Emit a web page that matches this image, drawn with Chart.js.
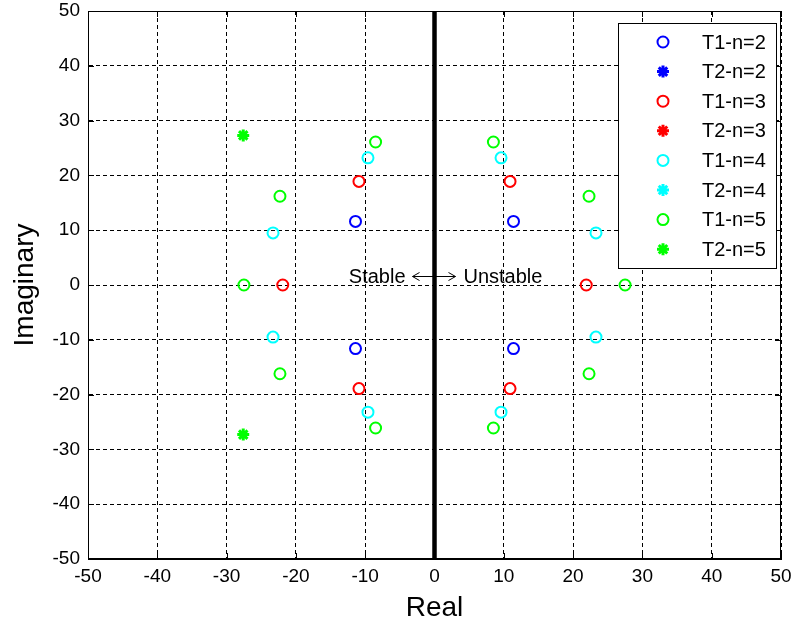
<!DOCTYPE html>
<html>
<head>
<meta charset="utf-8">
<title>Pole locations</title>
<script src="https://cdn.jsdelivr.net/npm/chart.js@4/dist/chart.umd.min.js"></script>
<style>
html, body { margin: 0; padding: 0; background: #fff; }
canvas { display: block; }
</style>
</head>
<body>
<canvas id="poles" width="792" height="627"></canvas>
<script>
// --- data ---------------------------------------------------------------
var axisTicks = [-50, -40, -30, -20, -10, 0, 10, 20, 30, 40, 50];
var seriesNames = ["T1-n=2", "T2-n=2", "T1-n=3", "T2-n=3", "T1-n=4", "T2-n=4", "T1-n=5", "T2-n=5"];

var t1n2Re = [-11.4, -11.4, 11.4, 11.4];
var t1n2Im = [11.6, -11.6, 11.6, -11.6];
var t2n2Re = [];
var t2n2Im = [];

var t1n3Re = [-10.9, -10.9, 10.9, 10.9, -21.9, 21.9];
var t1n3Im = [18.9, -18.9, 18.9, -18.9, 0, 0];
var t2n3Re = [];
var t2n3Im = [];

var t1n4Re = [-9.6, -9.6, 9.6, 9.6, -23.3, -23.3, 23.3, 23.3];
var t1n4Im = [23.2, -23.2, 23.2, -23.2, 9.5, -9.5, 9.5, -9.5];
var t2n4Re = [];
var t2n4Im = [];

var t1n5Re = [-8.5, -8.5, 8.5, 8.5, -22.3, -22.3, 22.3, 22.3, -27.5, 27.5];
var t1n5Im = [26.1, -26.1, 26.1, -26.1, 16.2, -16.2, 16.2, -16.2, 0, 0];
var t2n5Re = [-27.6, -27.6];
var t2n5Im = [27.3, -27.3];

// stability boundary (imaginary axis)
var boundaryRe = [0, 0];
var boundaryIm = [-50, 50];

// --- styles -------------------------------------------------------------
var FONT = "'Liberation Sans', Arial, sans-serif";
var seriesColors = ["#0000ff", "#0000ff", "#ff0000", "#ff0000", "#00ffff", "#00ffff", "#00ff00", "#00ff00"];

function toPoints(re, im) {
    var pts = [];
    for (var i = 0; i < re.length; i++) {
        pts.push({x: re[i], y: im[i]});
    }
    return pts;
}

function poleDataset(idx, re, im) {
    var isT2 = seriesNames[idx].indexOf("T2") === 0;
    return {
        label: seriesNames[idx],
        data: toPoints(re, im),
        showLine: false,
        pointStyle: isT2 ? "star" : "circle",
        pointRadius: isT2 ? 6 : 5.5,
        pointBorderWidth: isT2 ? 3 : 2,
        borderColor: seriesColors[idx],
        backgroundColor: isT2 ? seriesColors[idx] : "rgba(0,0,0,0)",
        inLegend: true
    };
}

var datasets = [
    {
        label: "boundary",
        type: "line",
        data: toPoints(boundaryRe, boundaryIm),
        borderColor: "#000",
        borderWidth: 4.5,
        pointRadius: 0,
        fill: false,
        inLegend: false
    },
    poleDataset(0, t1n2Re, t1n2Im),
    poleDataset(1, t2n2Re, t2n2Im),
    poleDataset(2, t1n3Re, t1n3Im),
    poleDataset(3, t2n3Re, t2n3Im),
    poleDataset(4, t1n4Re, t1n4Im),
    poleDataset(5, t2n4Re, t2n4Im),
    poleDataset(6, t1n5Re, t1n5Im),
    poleDataset(7, t2n5Re, t2n5Im)
];

// --- helpers for the matlab look ----------------------------------------
function drawMarker(ctx, ds, x, y) {
    ctx.save();
    ctx.strokeStyle = ds.borderColor;
    ctx.fillStyle = ds.backgroundColor;
    ctx.lineWidth = ds.pointBorderWidth;
    var r = ds.pointRadius;
    ctx.beginPath();
    if (ds.pointStyle === "circle") {
        ctx.arc(x, y, r, 0, Math.PI * 2);
    } else { // star: plus + x
        ctx.moveTo(x - r, y); ctx.lineTo(x + r, y);
        ctx.moveTo(x, y - r); ctx.lineTo(x, y + r);
        var d = r * Math.SQRT1_2;
        ctx.moveTo(x - d, y - d); ctx.lineTo(x + d, y + d);
        ctx.moveTo(x - d, y + d); ctx.lineTo(x + d, y - d);
    }
    ctx.stroke();
    ctx.restore();
}

var framePlugin = { // box round the axes + inward tick marks
    id: "frame",
    afterDraw: function (chart) {
        var ctx = chart.ctx, a = chart.chartArea;
        var xs = chart.scales.x, ys = chart.scales.y;
        ctx.save();
        ctx.strokeStyle = "#000";
        ctx.lineWidth = 1;
        ctx.strokeRect(a.left + 0.5, a.top + 0.5, a.right - a.left - 1, a.bottom - a.top - 1);
        ctx.beginPath();
        axisTicks.forEach(function (v) {
            var px = Math.round(xs.getPixelForValue(v)) + 0.5;
            var py = Math.round(ys.getPixelForValue(v)) + 0.5;
            ctx.moveTo(px, a.bottom); ctx.lineTo(px, a.bottom - 6);
            ctx.moveTo(px, a.top); ctx.lineTo(px, a.top + 6);
            ctx.moveTo(a.left, py); ctx.lineTo(a.left + 6, py);
            ctx.moveTo(a.right, py); ctx.lineTo(a.right - 6, py);
        });
        ctx.stroke();
        ctx.restore();
    }
};

var notePlugin = { // "Stable <-> Unstable" label at the origin
    id: "note",
    afterDatasetsDraw: function (chart) {
        var ctx = chart.ctx;
        var x0 = chart.scales.x.getPixelForValue(0);
        var y0 = chart.scales.y.getPixelForValue(0);
        ctx.save();
        ctx.font = "20px " + FONT;
        ctx.fillStyle = "#000";
        ctx.textBaseline = "alphabetic";
        ctx.textAlign = "right";
        ctx.fillText("Stable", x0 - 29, y0 - 2);
        ctx.textAlign = "left";
        ctx.fillText("Unstable", x0 + 29, y0 - 2);
        // double arrow
        var ya = y0 - 8.5, xl = x0 - 22, xr = x0 + 21;
        ctx.strokeStyle = "#000";
        ctx.lineWidth = 1;
        ctx.beginPath();
        ctx.moveTo(xl, ya); ctx.lineTo(xr, ya);
        ctx.moveTo(xl + 7, ya - 4); ctx.lineTo(xl, ya); ctx.lineTo(xl + 7, ya + 4);
        ctx.moveTo(xr - 7, ya - 4); ctx.lineTo(xr, ya); ctx.lineTo(xr - 7, ya + 4);
        ctx.stroke();
        ctx.restore();
    }
};

var legendPlugin = { // legend box in the top-right corner
    id: "boxLegend",
    afterDraw: function (chart) {
        var ctx = chart.ctx;
        var items = chart.data.datasets.filter(function (d) { return d.inLegend; });
        var left = 618, top = 23, w = 158, h = 245;
        ctx.save();
        ctx.fillStyle = "#fff";
        ctx.fillRect(left, top, w, h);
        ctx.strokeStyle = "#000";
        ctx.lineWidth = 1;
        ctx.strokeRect(left + 0.5, top + 0.5, w, h);
        ctx.font = "20px " + FONT;
        ctx.textAlign = "left";
        ctx.textBaseline = "middle";
        items.forEach(function (ds, i) {
            var y = top + 19 + i * 29.6;
            drawMarker(ctx, ds, left + 45, y);
            ctx.fillStyle = "#000";
            ctx.fillText(ds.label, left + 84, y + 1);
        });
        ctx.restore();
    }
};

// --- chart --------------------------------------------------------------
var ctx = document.getElementById("poles").getContext("2d");
var poleChart = new Chart(ctx, {
    type: "scatter",
    data: {datasets: datasets},
    plugins: [framePlugin, notePlugin, legendPlugin],
    options: {
        responsive: false,
        animation: false,
        devicePixelRatio: 1,
        layout: {padding: {top: 11, right: 11, left: 0, bottom: 0}},
        plugins: {
            legend: {display: false},
            tooltip: {enabled: false}
        },
        scales: {
            x: {
                type: "linear",
                min: -50,
                max: 50,
                afterFit: function (scale) {
                    scale.height = 68;
                    scale.paddingLeft = 0;
                    scale.paddingRight = 0;
                },
                afterBuildTicks: function (scale) {
                    scale.ticks = axisTicks.map(function (v) { return {value: v}; });
                },
                ticks: {
                    color: "#000",
                    font: {family: FONT, size: 19},
                    padding: 6,
                    maxRotation: 0,
                    callback: function (v) { return String(v); }
                },
                grid: {color: "#000", lineWidth: 1, drawTicks: false},
                border: {display: true, color: "#000", dash: [4, 3]},
                title: {
                    display: true,
                    text: "Real",
                    color: "#000",
                    font: {family: FONT, size: 28},
                    padding: {top: 0, bottom: 2}
                }
            },
            y: {
                type: "linear",
                min: -50,
                max: 50,
                afterFit: function (scale) {
                    scale.width = 88;
                    scale.paddingTop = 0;
                    scale.paddingBottom = 0;
                },
                afterBuildTicks: function (scale) {
                    scale.ticks = axisTicks.map(function (v) { return {value: v}; });
                },
                ticks: {
                    color: "#000",
                    font: {family: FONT, size: 19},
                    padding: 8,
                    callback: function (v) { return String(v); }
                },
                grid: {color: "#000", lineWidth: 1, drawTicks: false},
                border: {display: true, color: "#000", dash: [4, 3]},
                title: {
                    display: true,
                    text: "Imaginary",
                    color: "#000",
                    font: {family: FONT, size: 28},
                    padding: {top: 8, bottom: 0}
                }
            }
        }
    }
});
</script>
</body>
</html>
